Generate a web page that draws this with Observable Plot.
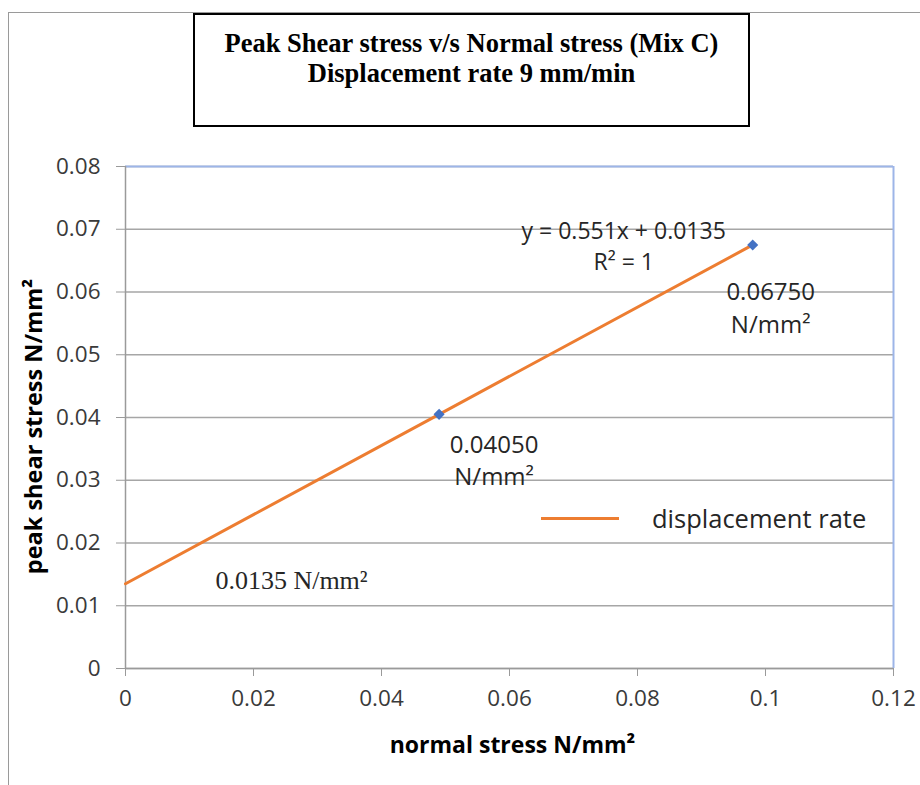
<!DOCTYPE html>
<html>
<head>
<meta charset="utf-8">
<script src="https://cdn.jsdelivr.net/npm/d3@7"></script>
<script src="https://cdn.jsdelivr.net/npm/@observablehq/plot@0.6"></script>
<style>
  html, body { margin: 0; padding: 0; background: #fff; }
  #wrap { position: relative; width: 920px; height: 785px; overflow: hidden; }
  #frameTop { position: absolute; left: 8px; top: 12px; width: 912px; height: 0; border-top: 1.5px solid #9a9a9a; }
  #frameLeft { position: absolute; left: 8px; top: 12px; width: 0; height: 773px; border-left: 1.5px solid #9a9a9a; }
  #titleBox { position: absolute; left: 193px; top: 13px; width: 557px; height: 114px; border: 2px solid #000; background: #fff;
    font-family: "Liberation Serif", "Times New Roman", serif; font-weight: bold; font-size: 26.5px; text-align: center; line-height: 30px; padding-top: 13px; box-sizing: border-box; }
  #legend { position: absolute; left: 541px; top: 501px; display: flex; align-items: center; font-family: "Open Sans", sans-serif; font-size: 25.5px; line-height: 34px; color: #262626; }
  #legend .swatch { width: 78px; height: 0; border-top: 3px solid #ED7D31; margin-right: 33px; }
  svg { position: absolute; left: 0; top: 0; }
</style>
</head>
<body>
<div id="wrap">
  <div id="chart"></div>
  <div id="frameTop"></div>
  <div id="frameLeft"></div>
  <div id="titleBox"></div>
  <div id="legend"><span class="swatch"></span><span id="legendText"></span></div>
</div>
<script>
// ---- data ----
const titleLines = ["Peak Shear stress v/s Normal stress (Mix C)", "Displacement rate 9 mm/min"];
const normalStress = [0, 0.049, 0.098];
const shearStress = [0.0135, 0.0405, 0.0675];
const markerIdx = [1, 2];
const xTicks = [0, 0.02, 0.04, 0.06, 0.08, 0.1, 0.12];
const yTicks = [0, 0.01, 0.02, 0.03, 0.04, 0.05, 0.06, 0.07, 0.08];
const xLabel = "normal stress N/mm²";
const yLabel = "peak shear stress N/mm²";
const seriesName = "displacement rate";
const equationText = "y = 0.551x + 0.0135";
const r2Text = "R² = 1";
const pointLabels = ["0.0135 N/mm²", "0.04050\nN/mm²", "0.06750\nN/mm²"];

document.getElementById("titleBox").innerHTML = titleLines.join("<br>");
document.getElementById("legendText").textContent = seriesName;

const pts = normalStress.map((x, i) => ({x, y: shearStress[i], label: pointLabels[i]}));
const markers = markerIdx.map(i => pts[i]);
const last = pts[pts.length - 1];
const ink = "#262626";

const chart = Plot.plot({
  width: 920,
  height: 785,
  marginLeft: 125,
  marginRight: 27,
  marginTop: 166,
  marginBottom: 117,
  style: {fontFamily: "'Open Sans', sans-serif", fontSize: "22.5px", color: "#3a3a3a", background: "transparent"},
  x: {domain: [0, 0.12]},
  y: {domain: [0, 0.08]},
  marks: [
    Plot.gridY(yTicks, {stroke: "#a6a6a6", strokeOpacity: 1, strokeWidth: 1.5}),
    Plot.ruleY([d3.max(yTicks)], {stroke: "#9db5e8", strokeWidth: 2}),
    Plot.ruleX([d3.max(xTicks)], {stroke: "#9db5e8", strokeWidth: 2}),
    Plot.ruleX([0], {stroke: "#9a9a9a", strokeWidth: 1.5}),
    Plot.ruleY([0], {stroke: "#9a9a9a", strokeWidth: 1.5}),
    Plot.axisY({ticks: yTicks, tickSize: 9, tickPadding: 16, tickFormat: d3.format("~g"), stroke: "#9a9a9a", label: null}),
    Plot.axisX({ticks: xTicks, tickSize: 8, tickPadding: 14, tickFormat: d3.format("~g"), stroke: "#9a9a9a", label: null}),
    Plot.line(pts, {x: "x", y: "y", stroke: "#ED7D31", strokeWidth: 3}),
    Plot.dot(markers, {x: "x", y: "y", symbol: "diamond2", r: 5, fill: "#4472C4", stroke: "none"}),
    // equation + R²
    Plot.text([last], {x: "x", y: "y", text: () => equationText, dx: -129, dy: -13, fill: ink, fontSize: 23}),
    Plot.text([last], {x: "x", y: "y", text: () => r2Text, dx: -129, dy: 18, fill: ink, fontSize: 23}),
    // data labels
    Plot.text([pts[2]], {x: "x", y: "y", text: "label", dx: 18, dy: 61, lineAnchor: "middle", lineHeight: 1.35, fill: ink, fontSize: 24}),
    Plot.text([pts[1]], {x: "x", y: "y", text: "label", dx: 55, dy: 44, lineAnchor: "middle", lineHeight: 1.35, fill: ink, fontSize: 24}),
    Plot.text([pts[0]], {x: "x", y: "y", text: "label", dx: 166, dy: -3, fill: ink, fontSize: 26, fontFamily: "Liberation Serif, serif"}),
    // axis titles
    Plot.text([yLabel], {frameAnchor: "left", textAnchor: "middle", lineAnchor: "middle", rotate: -90, dx: -91, dy: 9, fontWeight: "bold", fill: "#000", fontSize: 23.5}),
    Plot.text([xLabel], {frameAnchor: "bottom", textAnchor: "middle", lineAnchor: "middle", dx: 3, dy: 77, fontWeight: "bold", fill: "#000", fontSize: 23})
  ]
});
document.getElementById("chart").appendChild(chart);
</script>
</body>
</html>
